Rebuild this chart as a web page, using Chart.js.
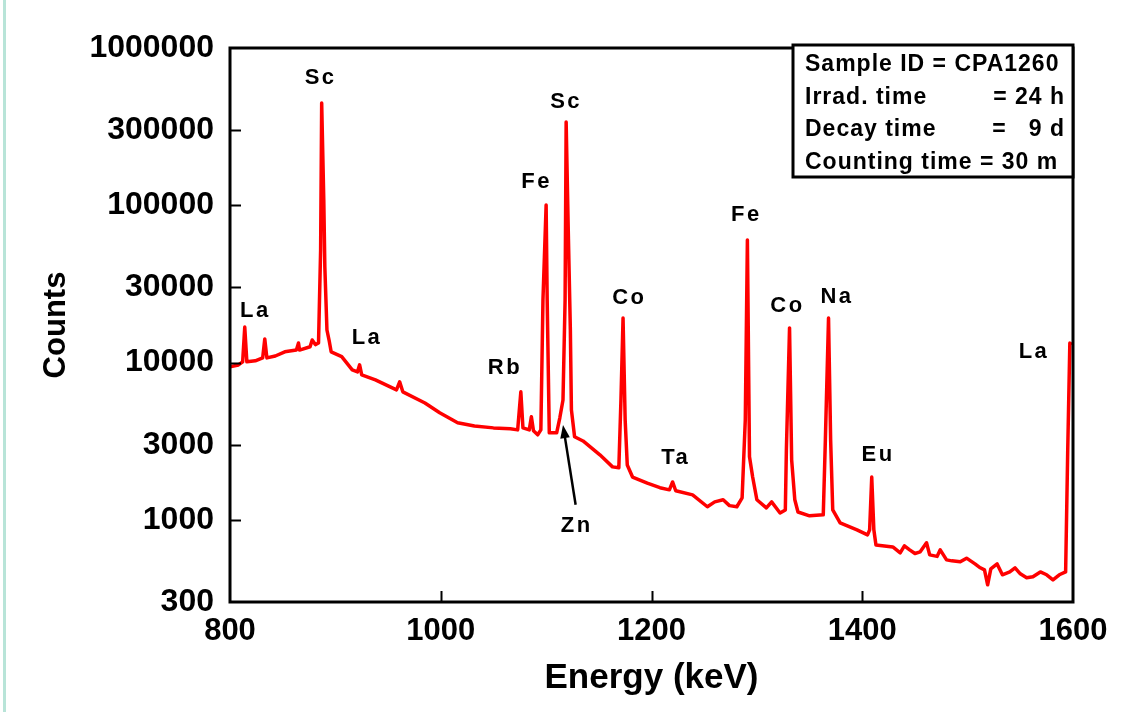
<!DOCTYPE html>
<html>
<head>
<meta charset="utf-8">
<title>Gamma spectrum CPA1260</title>
<script src="https://cdn.jsdelivr.net/npm/chart.js@4.4.1/dist/chart.umd.min.js"></script>
<style>
    html, body { margin: 0; padding: 0; background: #fff; }
    #wrap { width: 1148px; height: 712px; }
</style>
</head>
<body>
<div id="wrap"><canvas id="spectrum"></canvas></div>
<script>
const energy = [
    800, 808, 812, 814, 816, 824, 831, 833, 835, 843,
    852, 863, 865, 866, 876, 878, 881, 884, 886, 887,
    889, 890, 892, 894, 896, 906, 916, 921, 923, 925,
    938, 950, 958, 961, 964, 985, 999, 1016, 1032, 1050,
    1066, 1073, 1076, 1078, 1084, 1086, 1088, 1092, 1095, 1097,
    1100, 1101, 1103, 1110, 1113, 1116, 1118, 1119, 1121, 1123,
    1124, 1127, 1135, 1151, 1163, 1169, 1171, 1173, 1175, 1177,
    1182, 1196, 1208, 1217, 1220, 1223, 1239, 1253, 1260, 1268,
    1274, 1281, 1286, 1289, 1291, 1293, 1296, 1300, 1309, 1314,
    1322, 1327, 1328, 1331, 1333, 1336, 1339, 1350, 1363, 1365,
    1368, 1370, 1372, 1379, 1395, 1405, 1407, 1409, 1411, 1413,
    1429, 1436, 1440, 1445, 1450, 1455, 1461, 1464, 1471, 1474,
    1480, 1485, 1493, 1499, 1507, 1512, 1516, 1519, 1522, 1528,
    1533, 1540, 1545, 1550, 1556, 1562, 1569, 1575, 1581, 1587,
    1593, 1595, 1597, 1599
];
const counts = [
    9400, 9650, 10100, 16800, 10100, 10250, 10700, 14100, 10700, 11000,
    11700, 12000, 13300, 12000, 12600, 13900, 13000, 13300, 52000, 447000,
    108000, 40500, 16100, 13900, 11700, 10900, 8980, 8720, 9660, 8340,
    7750, 7100, 6700, 7530, 6510, 5530, 4790, 4140, 3950, 3840,
    3790, 3730, 6510, 3840, 3730, 4520, 3680, 3470, 3730, 25000,
    100400, 25000, 3570, 3570, 4450, 5780, 25000, 338600, 69700, 16100,
    5000, 3370, 3170, 2590, 2170, 2140, 5780, 19200, 4320, 2230,
    1870, 1710, 1600, 1550, 1740, 1530, 1440, 1210, 1300, 1340,
    1230, 1210, 1380, 4320, 60200, 2520, 1870, 1340, 1190, 1300,
    1105, 1155, 2780, 16600, 2400, 1340, 1120, 1060, 1075, 3220,
    19200, 3220, 1155, 955, 863, 802, 863, 1870, 863, 692,
    672, 616, 683, 644, 610, 625, 714, 598, 585, 644,
    556, 548, 540, 570, 524, 495, 480, 386, 487, 524,
    447, 466, 495, 453, 428, 434, 466, 447, 415, 447,
    466, 2780, 13300, 13000
];

const xTickValues = [800, 1000, 1200, 1400, 1600];
const yTickValues = [300, 1000, 3000, 10000, 30000, 100000, 300000, 1000000];

// etiquetas de los picos (elemento, energía, cuentas donde va el texto)
const peakNames  = ['La', 'Sc', 'La', 'Rb', 'Fe', 'Sc', 'Co', 'Ta', 'Zn', 'Fe', 'Co', 'Na', 'Eu', 'La'];
const peakEnergy = [824, 886, 930, 1061, 1091, 1119, 1179, 1223, 1129, 1290, 1329, 1376, 1415, 1563];
const peakCounts = [21300, 644000, 14300, 9240, 140600, 453700, 25750, 2470, 914, 86750, 22900, 26100, 2590, 11700];

// flecha de Zn: desde la etiqueta hasta el pico
const arrowFrom = [1128, 1245];
const arrowTo   = [1116, 4010];

const infoLeft  = ['Sample ID = CPA1260', 'Irrad. time', 'Decay time', 'Counting time = 30 m'];
const infoRight = ['', '= 24 h', '=   9 d', ''];

const FONT = "'Liberation Sans', Arial, sans-serif";
Chart.defaults.font.family = FONT;
Chart.defaults.color = '#000';

const decor = {
    id: 'decor',
    beforeDraw(chart) {
        const { ctx, width, height } = chart;
        ctx.save();
        ctx.fillStyle = '#ffffff';
        ctx.fillRect(0, 0, width, height);
        ctx.fillStyle = '#b8e4d8';
        ctx.fillRect(3, 0, 3, height);
        ctx.restore();
    },
    afterDraw(chart) {
        const { ctx, chartArea: a, scales: { x, y } } = chart;
        ctx.save();
        ctx.strokeStyle = '#000';
        ctx.fillStyle = '#000';

        // marcas hacia dentro
        ctx.lineWidth = 2;
        ctx.beginPath();
        yTickValues.slice(1, -1).forEach(v => {
            const py = Math.round(y.getPixelForValue(v)) + 0.5;
            ctx.moveTo(a.left, py);
            ctx.lineTo(a.left + 11, py);
        });
        xTickValues.slice(1, -1).forEach(v => {
            const px = Math.round(x.getPixelForValue(v)) + 0.5;
            ctx.moveTo(px, a.bottom);
            ctx.lineTo(px, a.bottom - 11);
        });
        ctx.stroke();

        // marco
        ctx.lineWidth = 3;
        ctx.strokeRect(a.left, a.top, a.right - a.left, a.bottom - a.top);

        // nombres de los picos
        ctx.font = `bold 22px ${FONT}`;
        ctx.letterSpacing = '2.5px';
        ctx.textAlign = 'center';
        ctx.textBaseline = 'middle';
        peakNames.forEach((name, i) => {
            ctx.fillText(name, x.getPixelForValue(peakEnergy[i]), y.getPixelForValue(peakCounts[i]));
        });

        // flecha Zn
        const x0 = x.getPixelForValue(arrowFrom[0]), y0 = y.getPixelForValue(arrowFrom[1]);
        const x1 = x.getPixelForValue(arrowTo[0]), y1 = y.getPixelForValue(arrowTo[1]);
        const ang = Math.atan2(y1 - y0, x1 - x0);
        ctx.lineWidth = 2.5;
        ctx.beginPath();
        ctx.moveTo(x0, y0);
        ctx.lineTo(x1 - 8 * Math.cos(ang), y1 - 8 * Math.sin(ang));
        ctx.stroke();
        ctx.beginPath();
        ctx.moveTo(x1, y1);
        ctx.lineTo(x1 - 14 * Math.cos(ang - 0.35), y1 - 14 * Math.sin(ang - 0.35));
        ctx.lineTo(x1 - 14 * Math.cos(ang + 0.35), y1 - 14 * Math.sin(ang + 0.35));
        ctx.closePath();
        ctx.fill();

        // cuadro con los datos de la muestra
        const bw = 280, bh = 132;
        const bx = a.right - bw, by = a.top - 3;
        ctx.fillStyle = '#fff';
        ctx.fillRect(bx, by, bw, bh);
        ctx.lineWidth = 3;
        ctx.strokeRect(bx, by, bw, bh);
        ctx.fillStyle = '#000';
        ctx.font = `bold 23px ${FONT}`;
        ctx.letterSpacing = '1px';
        infoLeft.forEach((txt, i) => {
            const ly = by + 20 + i * 32.5;
            ctx.textAlign = 'left';
            ctx.fillText(txt, bx + 12, ly);
            if (infoRight[i]) {
                ctx.textAlign = 'right';
                ctx.fillText(infoRight[i], bx + bw - 8, ly);
            }
        });
        ctx.restore();
    }
};

const ctx = document.getElementById('spectrum').getContext('2d');
new Chart(ctx, {
    type: 'line',
    data: {
        datasets: [{
            label: 'CPA1260',
            data: energy.map((e, i) => ({ x: e, y: counts[i] })),
            borderColor: '#ff0000',
            borderWidth: 3.5,
            borderJoinStyle: 'round',
            pointRadius: 0,
            tension: 0,
            fill: false
        }]
    },
    options: {
        responsive: true,
        maintainAspectRatio: false,
        animation: false,
        devicePixelRatio: 1,
        layout: { padding: { top: 48, right: 75, bottom: 0, left: 0 } },
        plugins: {
            legend: { display: false },
            tooltip: { enabled: false }
        },
        scales: {
            x: {
                type: 'linear',
                min: 800,
                max: 1600,
                afterBuildTicks: s => { s.ticks = xTickValues.map(v => ({ value: v })); },
                afterFit: s => { s.height = 110; },
                ticks: {
                    callback: v => String(v),
                    font: { size: 31, weight: 'bold' },
                    color: '#000',
                    padding: 11,
                    maxRotation: 0,
                    autoSkip: false
                },
                grid: { display: false, drawTicks: false },
                border: { display: false },
                title: {
                    display: true,
                    text: 'Energy (keV)',
                    font: { size: 35, weight: 'bold' },
                    color: '#000',
                    padding: { top: 0, bottom: 13 }
                }
            },
            y: {
                type: 'logarithmic',
                min: 300,
                max: 1000000,
                afterBuildTicks: s => { s.ticks = yTickValues.map(v => ({ value: v })); },
                afterFit: s => { s.width = 230; },
                ticks: {
                    callback: v => String(v),
                    font: { size: 32, weight: 'bold' },
                    color: '#000',
                    padding: 16,
                    autoSkip: false
                },
                grid: { display: false, drawTicks: false },
                border: { display: false },
                title: {
                    display: true,
                    text: 'Counts',
                    font: { size: 31, weight: 'bold' },
                    color: '#000',
                    padding: { top: 38, bottom: 0 }
                }
            }
        }
    },
    plugins: [decor]
});
</script>
</body>
</html>
